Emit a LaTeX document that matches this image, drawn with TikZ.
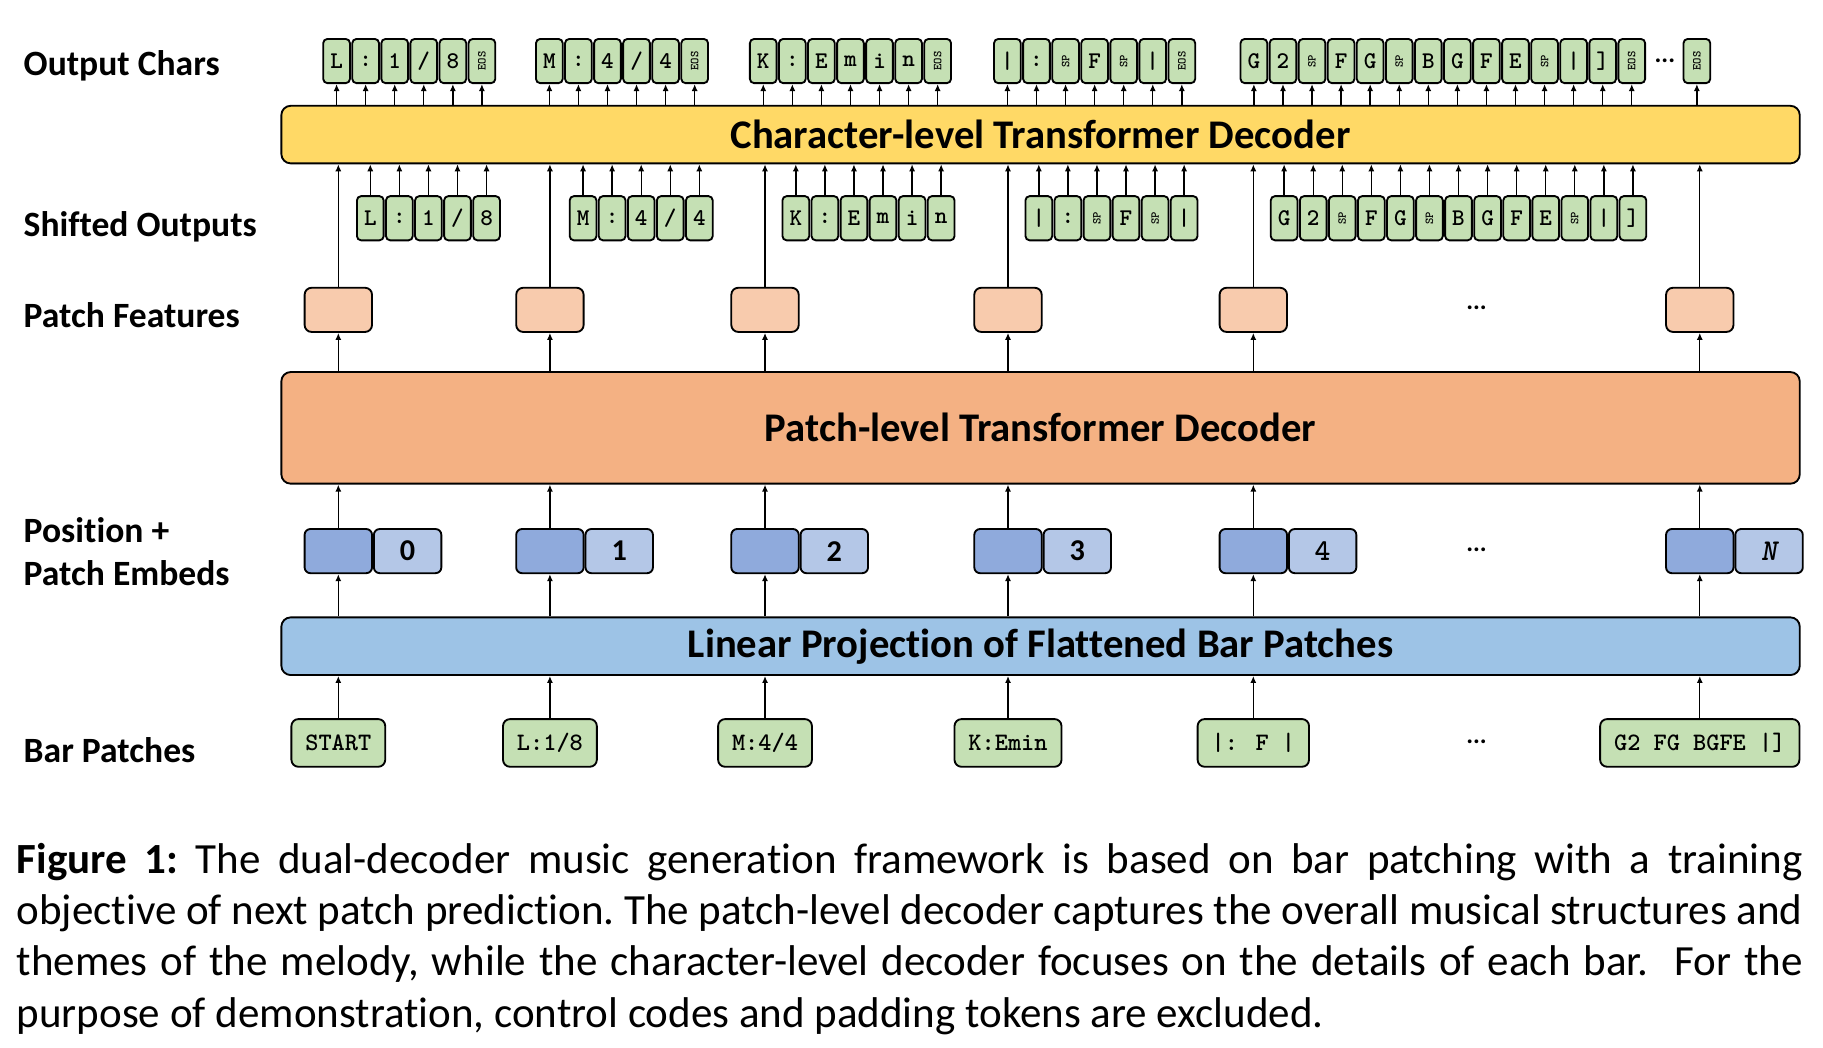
\documentclass[tikz,border=0pt]{standalone}
\usepackage{fontspec}
\setmainfont{Carlito}[Ligatures=NoCommon]
\newcommand{\tokfont}{\ttfamily\bfseries\addfontfeatures{FakeBold=1.2}}
\usetikzlibrary{positioning,arrows.meta}

\definecolor{tokgreen}{HTML}{C5E0B4}
\definecolor{charyellow}{HTML}{FFD966}
\definecolor{featorange}{HTML}{F8CBAD}
\definecolor{patchorange}{HTML}{F4B183}
\definecolor{embdarkblue}{HTML}{8FAADC}
\definecolor{emblightblue}{HTML}{B4C7E7}
\definecolor{linblue}{HTML}{9DC3E6}

\newcommand{\eostok}{\rotatebox{90}{\fontsize{5.2}{5.5}\selectfont EOS}}
\newcommand{\sptok}{\rotatebox{90}{\fontsize{5.2}{5.5}\selectfont SP}}

% output chars: name, left x, tokens
\newcommand{\outgroup}[3]{%
  \foreach \tk [count=\i from 0] in {#3} {
    \node[tok] (#1-\i) at ({#2+11.5+25*\i},52.5) {\tk};
    \draw[arr] (#1-\i.south |- cb.north) -- (#1-\i.south);
  }}
% shifted outputs
\newcommand{\shiftgroup}[3]{%
  \foreach \tk [count=\i from 0] in {#3} {
    \node[tok] (#1-\i) at ({#2+11.5+25*\i},187.7) {\tk};
    \draw[arr] (#1-\i.north) -- (#1-\i.north |- cb.south);
  }}

\begin{document}
\begin{tikzpicture}[x=0.5pt,y=-0.5pt,
  tok/.style={draw, line width=0.8pt, fill=tokgreen, rounded corners=1.8pt,
    minimum width=11.5pt, minimum height=19pt, inner sep=0pt,
    font=\fontsize{10.3}{10.3}\selectfont\tokfont},
  arr/.style={line width=0.6pt, -{Latex[length=3pt,width=2.6pt]}},
  bigbox/.style={draw, line width=0.8pt, rounded corners=4pt,
    minimum width=653pt, inner sep=0pt,
    font=\bfseries\fontsize{17.5}{18}\selectfont},
  feat/.style={draw, line width=0.8pt, fill=featorange, rounded corners=3pt,
    minimum width=29pt, minimum height=19pt},
  embdark/.style={draw, line width=0.8pt, fill=embdarkblue, rounded corners=2.5pt,
    minimum width=29pt, minimum height=19pt, inner sep=0pt},
  emblight/.style={embdark, fill=emblightblue,
    font=\bfseries\fontsize{13}{13}\selectfont},
  barpatch/.style={draw, line width=0.8pt, fill=tokgreen, rounded corners=3pt,
    minimum height=20.5pt, inner xsep=6pt,
    font=\fontsize{10.8}{10.8}\selectfont\tokfont},
  rowlabel/.style={anchor=west, inner sep=0pt, align=left,
    font=\bfseries\fontsize{15.3}{18.5}\selectfont},
  dots/.style={inner sep=0pt, font=\bfseries\fontsize{11}{11}\selectfont}]

\useasboundingbox (0,0) rectangle (1568,901);

% row labels
\node[rowlabel] (lbout) at (20,57) {Output Chars};
\node[rowlabel] (lbshift) at (20,195) {Shifted Outputs};
\node[rowlabel] (lbfeat) at (20,271) {Patch Features};
\node[rowlabel] (lbemb) at (20,474.5) {Position +\\Patch Embeds};
\node[rowlabel] (lbbar) at (20,645) {Bar Patches};

% the three wide blocks
\node[bigbox, fill=charyellow, minimum height=24.75pt] (cb) at (895,115.75)
  {Character-level Transformer Decoder};
\node[bigbox, fill=patchorange, minimum height=48pt] (pl) at (895,368)
  {Patch-level Transformer Decoder};
\node[bigbox, fill=linblue, minimum height=24.8pt] (lin) at (895,555.8)
  {Linear Projection of Flattened Bar Patches};

% one column per bar patch
\foreach \cx/\lbl/\bp [count=\i from 0] in {291/0/START, 473/1/{L:1/8},
    658/2/{M:4/4}, 867/3/{K:Emin}, 1078/{\tokfont 4}/{|: F |},
    1462/{\tokfont\itshape N}/{G2 FG BGFE |]}} {
  \node[feat] (f\i) at (\cx,266.5) {};
  \node[embdark] (e\i) at (\cx,474) {};
  \node[emblight, right=0pt of e\i] (n\i) {\lbl};
  \node[barpatch] (b\i) at (\cx,639) {\bp};
  \draw[arr] (b\i.north) -- (b\i.north |- lin.south);
  \draw[arr] (e\i.south |- lin.north) -- (e\i.south);
  \draw[arr] (e\i.north) -- (e\i.north |- pl.south);
  \draw[arr] (f\i.south |- pl.north) -- (f\i.south);
  \draw[arr] (f\i.north) -- (f\i.north |- cb.south);
}
\node[dots] (fdots) at (1270,265) {...};
\node[dots] (edots) at (1270,473) {...};
\node[dots] (bdots) at (1270,638) {...};

% shifted outputs
\shiftgroup{sa}{307}{L,:,1,/,8}
\shiftgroup{sb}{490}{M,:,4,/,4}
\shiftgroup{sc}{673}{K,:,E,m,i,n}
\shiftgroup{sd}{882}{|,:,\sptok,F,\sptok,|}
\shiftgroup{se}{1093}{G,2,\sptok,F,G,\sptok,B,G,F,E,\sptok,|,]}

% output chars
\outgroup{oa}{278}{L,:,1,/,8,\eostok}
\outgroup{ob}{461}{M,:,4,/,4,\eostok}
\outgroup{oc}{645}{K,:,E,m,i,n,\eostok}
\outgroup{od}{855}{|,:,\sptok,F,\sptok,|,\eostok}
\outgroup{oe}{1067}{G,2,\sptok,F,G,\sptok,B,G,F,E,\sptok,|,],\eostok}
\node[dots] (odots) at (1432,52) {...};
\node[tok] (oz) at (1459.5,52.5) {\eostok};
\draw[arr] (oz.south |- cb.north) -- (oz.south);

% caption
\node[anchor=north west, inner sep=0pt, text width=768pt, align=justify,
  font=\frenchspacing\fontsize{18.5}{22}\selectfont] (caption) at (14,725)
  {\textbf{Figure 1:} The dual-decoder music generation framework is based on
  bar patching with a training\linebreak objective of next patch prediction.
  The patch-level decoder captures the overall musical structures and\linebreak
  themes of the melody, while the character-level decoder focuses on the
  details of each bar.\ \ For the\linebreak purpose of demonstration, control
  codes and padding tokens are excluded.};
\end{tikzpicture}
\end{document}
